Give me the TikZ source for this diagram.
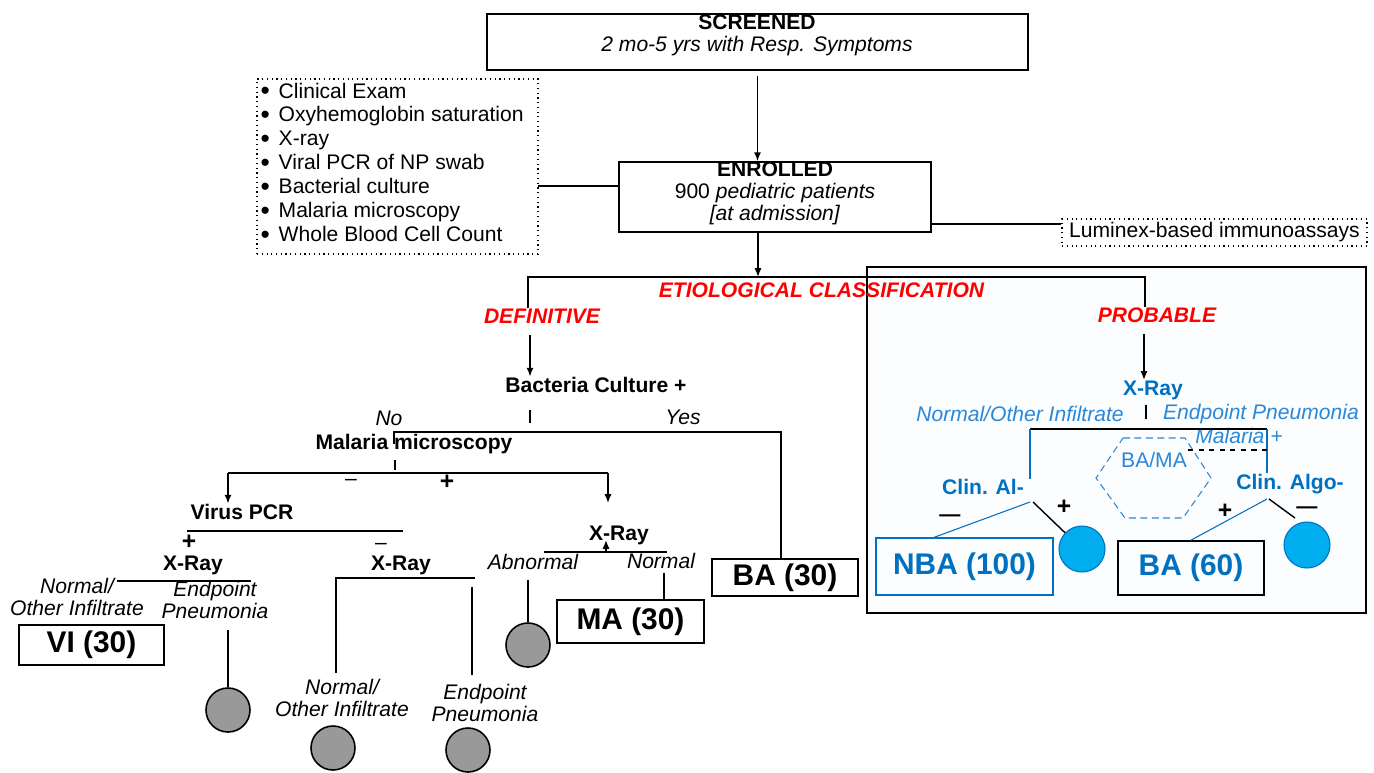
\documentclass[tikz,border=0pt]{standalone}
\usepackage{fontspec}
\setmainfont{Liberation Sans}
\usepackage[HTML]{xcolor}
\usepackage{tikz}
\usetikzlibrary{positioning, arrows.meta}

\definecolor{algoblue}{HTML}{0070C0}
\definecolor{liteblue}{HTML}{2A88D8}
\definecolor{dotcyan}{HTML}{00AEEF}
\definecolor{dotgray}{HTML}{999999}
\definecolor{panel}{HTML}{FCFDFE}
\newcommand{\diagfont}{\fontsize{12}{14}\selectfont}
\newcommand{\itembullet}{\raisebox{-1pt}{\fontsize{15}{14}\selectfont\textbullet}}

\begin{document}
\begin{tikzpicture}[x=0.02cm, y=-0.02cm, line width=0.8pt,
  >={Latex[length=5pt,width=4pt]},
  every node/.style={inner sep=0pt, font=\diagfont},
  box/.style={draw, line width=1pt},
  lbl/.style={font=\diagfont\bfseries},
  note/.style={font=\diagfont\itshape, align=center},
  cls/.style={font=\diagfont\bfseries\itshape, text=red},
  big/.style={font=\fontsize{17}{20}\selectfont\bfseries},
  sign/.style={font=\fontsize{14}{16}\selectfont\bfseries},
  grey dot/.style={circle, draw, line width=0.9pt, fill=dotgray, minimum size=0.88cm},
  blue dot/.style={circle, draw=algoblue, line width=0.6pt, fill=dotcyan, minimum size=0.92cm}]
\useasboundingbox (0,0) rectangle (1374,772);

% panel of the probable branch
\draw[line width=1pt, fill=panel] (867,267) rectangle (1366,613);

% screening and enrolment
\node[box, minimum width=10.82cm, minimum height=1.12cm] (scr) at (757.5,42) {};
\node[align=center, font=\fontsize{12}{12.5}\selectfont] (scrtxt) at (757,35)
  {\textbf{SCREENED}\\\textit{2 mo-5 yrs with Resp. Symptoms}};
\node[box, minimum width=6.24cm, minimum height=1.4cm] (enr) at (775,197) {};
\node[align=center, font=\fontsize{12}{12.5}\selectfont] (enrtxt) at (775,193)
  {\textbf{ENROLLED}\\900 \textit{pediatric patients}\\\textit{[at admission]}};
\draw[->] ([yshift=-3pt]scr.south) -- (scr.south |- enr.north);

% tests
\node[draw, dotted, line width=0.7pt, minimum width=5.62cm, minimum height=3.5cm] (exams) at (397.5,166.5) {};
\node[anchor=west, align=left, font=\fontsize{12}{13.6}\selectfont] (examlist) at (260,163)
  {\itembullet\hspace{5pt}Clinical Exam\\
   \itembullet\hspace{5pt}Oxyhemoglobin saturation\\
   \itembullet\hspace{5pt}X-ray\\
   \itembullet\hspace{5pt}Viral PCR of NP swab\\
   \itembullet\hspace{5pt}Bacterial culture\\
   \itembullet\hspace{5pt}Malaria microscopy\\
   \itembullet\hspace{5pt}Whole Blood Cell Count};
\node[draw, dotted, line width=0.7pt, minimum width=6.1cm, minimum height=0.54cm] (lum) at (1214.5,232.5) {Luminex-based immunoassays};
\coordinate (x0) at (538,186);
\draw (x0) -- (x0 -| enr.west);
\coordinate (l0) at (931,224);
\draw (l0) -- (l0 -| lum.west);

% classification
\coordinate (etL) at (528,277);
\coordinate (etM) at (758,277);
\coordinate (etR) at (1145,277);
\node[cls] (etio) at (821.5,290) {ETIOLOGICAL CLASSIFICATION};
\node[cls] (defn) at (542,316) {DEFINITIVE};
\node[cls] (prob) at (1157,315) {PROBABLE};
\draw[->] (enr.south -| etM) -- (etM);
\draw (etL |- defn.north) -- (etL) -- (etR) -- (etR |- prob.north);

% definitive branch
\node[lbl] (bac) at (596,385) {Bacteria Culture +};
\coordinate (d0) at (530,335);
\draw[->] (d0) -- (d0 |- bac.north);
\coordinate (t1) at (530,410);
\draw (t1) -- ++(0,13);
\node[note] (no) at (389,418) {No};
\node[note] (yes) at (683,417) {Yes};
\node[lbl] (mal) at (414,444) {Malaria microscopy};
\node[box, big, minimum width=2.92cm, minimum height=0.74cm] (ba30) at (785,577.5) {BA (30)};
\coordinate (ynL) at (394,432);
\coordinate (ynR) at (781,432);
\draw (ynL |- mal.center) -- (ynL) -- (ynR) -- (ynR |- ba30.north);

\coordinate (t2) at (395,460);
\draw (t2) -- ++(0,10);
\coordinate (mL) at (228,473);
\coordinate (mR) at (608,473);
\node (mneg) at (351,482) {--};
\node[sign] (mpos) at (447,482) {+};
\node[lbl] (vpcr) at (242,512) {Virus PCR};
\draw (mL) -- (mR);
\draw[->] (mL) -- (mL |- vpcr.north);
\draw[->] (mR) -- ++(0,30);

% virus PCR
\coordinate (vL) at (187,531);
\coordinate (vR) at (403,531);
\draw (vL) -- (vR);
\node[sign] (vpos) at (189,542) {+};
\node (vneg) at (381,546) {--};
\node[lbl] (xr1) at (193,565) {X-Ray};
\node[lbl] (xr2) at (401,565) {X-Ray};
\coordinate (x1L) at (117,581);
\coordinate (x1R) at (251,581);
\draw (x1L) -- (x1R);
\node[note, font=\fontsize{12}{12.5}\selectfont\itshape] (n1) at (77,597) {Normal/\\Other Infiltrate};
\node[note, font=\fontsize{12}{12.5}\selectfont\itshape] (p1) at (215,600) {Endpoint\\Pneumonia};
\node[box, big, minimum width=2.9cm, minimum height=0.8cm] (vi) at (91.5,645) {VI (30)};
\node[grey dot] (g1) at (228,710) {};
\coordinate (c1) at (228,630);
\draw (c1) -- (g1.north);

\coordinate (x2L) at (336,578);
\coordinate (x2R) at (472,578);
\coordinate (c2) at (336,673);
\coordinate (c3) at (472,675);
\draw (c2) -- (x2L) -- ([xshift=0.06cm]x2R);
\draw ([yshift=-5pt]x2R) -- (c3);
\node[note, font=\fontsize{12}{12.5}\selectfont\itshape] (n2) at (342,698) {Normal/\\Other Infiltrate};
\node[note, font=\fontsize{12}{12.5}\selectfont\itshape] (p2) at (485,703) {Endpoint\\Pneumonia};
\node[grey dot] (g2) at (333,748) {};
\node[grey dot] (g3) at (468,750) {};

% malaria positive
\node[lbl] (xr3) at (619,535) {X-Ray};
\coordinate (x3L) at (544,552);
\coordinate (x3R) at (667,552);
\coordinate (x3a) at (606,552);
\draw (x3L) -- (x3R);
\draw[->] (x3a) -- ++(0,-12);
\node[note] (ab) at (533,562) {Abnormal};
\node[note] (nm) at (661,561) {Normal};
\node[grey dot] (g4) at (528,645) {};
\node[box, big, minimum width=2.94cm, minimum height=0.86cm] (ma) at (630.5,621.5) {MA (30)};
\coordinate (a0) at (528,580);
\draw (a0) -- (g4.north);
\coordinate (n0) at (664,573);
\draw (n0) -- (n0 |- ma.north);

% probable branch
\node[lbl, text=algoblue] (bxr) at (1153,390) {X-Ray};
\coordinate (pb) at (1144,334);
\draw[->] (pb) -- (pb |- bxr.north);
\coordinate (t3) at (1146,405);
\draw (t3) -- ++(0,14);
\node[note, text=liteblue] (bnl) at (1020,414) {Normal/Other Infiltrate};
\node[note, text=liteblue] (bep) at (1261,414) {Endpoint Pneumonia};
\node[note, text=liteblue] (bmal) at (1239,436) {Malaria +};
\node[lbl, text=algoblue] (cal) at (983,487) {Clin. Al-};
\node[lbl, text=algoblue] (calg) at (1290,484) {Clin. Algo-};
\coordinate (rL) at (1030,429);
\coordinate (rR) at (1267,429);
\draw (rL) -- (rR);
\draw[algoblue, line width=0.6pt] (rL) -- (rL |- cal.north);
\draw[algoblue, line width=0.6pt] (rR) -- (rR |- calg.north);
\coordinate (dsh) at (1188,450);
\draw[dashed, line width=0.6pt] (dsh) -- (dsh -| rR);
\draw[liteblue, line width=0.6pt, dash pattern=on 4pt off 2.5pt]
  (1123,438) -- (1185,438) -- (1211,478) -- (1183,518) -- (1125,518) -- (1096,478) -- cycle;
\node[text=liteblue] (bama) at (1154,460) {BA/MA};

\node[box, big, draw=algoblue, line width=0.7pt, text=algoblue, minimum width=3.54cm, minimum height=1.14cm] (nba) at (964.5,566.5) {NBA (100)};
\node[box, big, text=algoblue, minimum width=2.92cm, minimum height=1.08cm] (ba60) at (1191,568) {BA (60)};
\node[blue dot] (b1) at (1082,549) {};
\node[blue dot] (b2) at (1307,545) {};
\node[font=\fontsize{12}{14}\selectfont\bfseries] (cln) at (950,518) {---};
\node[sign] (clp) at (1064,507) {+};
\node[sign] (crp) at (1225,511) {+};
\node[font=\fontsize{12}{14}\selectfont\bfseries] (crn) at (1307,510) {---};
\coordinate (cl0) at (1030,502);
\coordinate (cl1) at (1033,502);
\draw[algoblue, line width=0.6pt] (cl0) -- ([xshift=-0.61cm]nba.north);
\draw (cl1) -- (b1);
\coordinate (cr0) at (1267,499);
\coordinate (cr1) at (1269,499);
\coordinate (cr2) at (1295,518);
\draw[algoblue, line width=0.6pt] (cr0) -- (ba60.north);
\draw (cr1) -- (cr2);
\end{tikzpicture}
\end{document}
